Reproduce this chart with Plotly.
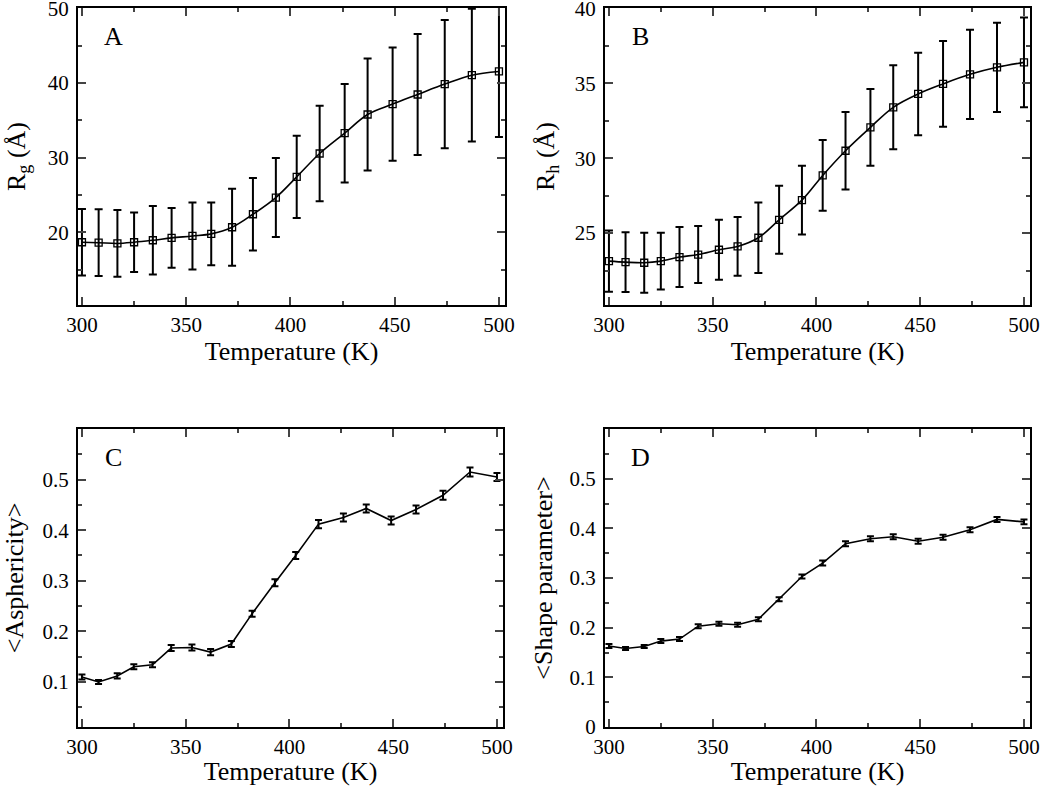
import plotly.graph_objects as go

# ---- data ----
temperature = [300, 308, 317, 325, 334, 343, 353, 362, 372, 382,
               393, 403, 414, 426, 437, 449, 461, 474, 487, 500]

rg = [18.66, 18.6, 18.5, 18.66, 18.93, 19.24, 19.5, 19.78, 20.67, 22.41,
      24.65, 27.42, 30.55, 33.28, 35.78, 37.17, 38.46, 39.85, 41.05, 41.55]
rg_err = [4.47, 4.47, 4.47, 4.0, 4.6, 4.0, 4.5, 4.2, 5.15, 4.85,
          5.3, 5.5, 6.4, 6.6, 7.5, 7.6, 8.1, 8.6, 8.9, 8.8]

rh = [23.13, 23.06, 23.02, 23.13, 23.4, 23.57, 23.89, 24.11, 24.69, 25.89,
      27.2, 28.85, 30.5, 32.06, 33.4, 34.29, 34.96, 35.6, 36.07, 36.4]
rh_err = [2.04, 2.0, 2.0, 1.9, 2.0, 1.9, 2.0, 1.96, 2.35, 2.27,
          2.3, 2.36, 2.58, 2.57, 2.8, 2.75, 2.86, 2.98, 2.98, 3.0]

asph = [0.110, 0.100, 0.112, 0.130, 0.134, 0.167, 0.168, 0.159, 0.175, 0.235,
        0.296, 0.350, 0.412, 0.425, 0.443, 0.419, 0.441, 0.469, 0.515, 0.505]
asph_err = [0.005, 0.004, 0.005, 0.005, 0.005, 0.006, 0.006, 0.006, 0.006, 0.006,
            0.007, 0.007, 0.008, 0.008, 0.008, 0.008, 0.008, 0.009, 0.009, 0.008]

shape = [0.163, 0.158, 0.162, 0.173, 0.177, 0.203, 0.208, 0.206, 0.217, 0.257,
         0.303, 0.330, 0.369, 0.379, 0.383, 0.374, 0.382, 0.397, 0.418, 0.413]
shape_err = [0.004, 0.003, 0.003, 0.004, 0.004, 0.004, 0.004, 0.004, 0.004, 0.004,
             0.004, 0.005, 0.005, 0.005, 0.005, 0.005, 0.005, 0.005, 0.005, 0.005]

x_ticks = [300, 350, 400, 450, 500]
panel_labels = ["A", "B", "C", "D"]
x_title = "Temperature (K)"
y_titles = ["R<sub>g</sub> (Å)", "R<sub>h</sub> (Å)", "&lt;Asphericity&gt;", "&lt;Shape parameter&gt;"]

FONT = "Liberation Serif"
W, H = 1050, 786

# panel frames in pixels (left, right, top, bottom)
frames = [(78, 505, 8, 305), (605, 1030, 8, 305), (78, 503, 429, 727), (605, 1030, 429, 727)]

fig = go.Figure()

series = [
    (rg, rg_err, "spline", True, 4),
    (rh, rh_err, "spline", True, 4),
    (asph, asph_err, "linear", False, 3.5),
    (shape, shape_err, "linear", False, 3.5),
]

for i, (vals, errs, shp, markers, capw) in enumerate(series):
    xa = "x" if i == 0 else f"x{i+1}"
    ya = "y" if i == 0 else f"y{i+1}"
    fig.add_trace(go.Scatter(
        x=temperature, y=vals, xaxis=xa, yaxis=ya,
        mode="lines+markers" if markers else "lines",
        line=dict(color="black", width=1.6, shape=shp),
        marker=dict(symbol="square-open", size=7, color="black", line=dict(width=1.3)),
        error_y=dict(type="data", array=errs, visible=True, color="black",
                     thickness=2, width=capw),
        showlegend=False,
    ))

y_ranges = [[10.25, 50.05], [20.2, 40.03], [0.011, 0.6], [0, 0.6]]
y_major = [[20, 30, 40, 50], [25, 30, 35, 40], [0.1, 0.2, 0.3, 0.4, 0.5],
           [0, 0.1, 0.2, 0.3, 0.4, 0.5]]
y_minor = [5, 2.5, 0.05, 0.05]
y_standoff = [15, 13, 11, 9]

layout = dict(
    width=W, height=H,
    margin=dict(l=0, r=0, t=0, b=0),
    paper_bgcolor="white", plot_bgcolor="white",
    font=dict(family=FONT, color="black", size=20),
    showlegend=False,
)

annotations = []
for i, (l, r, t, b) in enumerate(frames):
    sx = "" if i == 0 else str(i + 1)
    xdom = [l / W, r / W]
    ydom = [(H - b) / H, (H - t) / H]
    layout[f"xaxis{sx}"] = dict(
        domain=xdom, anchor=f"y{sx}", range=[298.1, 502.9],
        tickvals=x_ticks, ticks="inside", ticklen=8, tickwidth=1.5,
        minor=dict(dtick=25, tick0=300, ticks="inside", ticklen=4, tickwidth=1.5),
        showline=True, linewidth=2, linecolor="black", mirror="allticks",
        showgrid=False, zeroline=False, automargin=False,
        ticklabeloverflow="allow",
        tickfont=dict(family=FONT, size=21),
        title=dict(text=x_title, font=dict(family=FONT, size=26), standoff=3),
    )
    layout[f"yaxis{sx}"] = dict(
        domain=ydom, anchor=f"x{sx}", range=y_ranges[i],
        tickvals=y_major[i], ticks="inside", ticklen=8, tickwidth=1.5,
        minor=dict(dtick=y_minor[i], ticks="inside", ticklen=4, tickwidth=1.5),
        showline=True, linewidth=2, linecolor="black", mirror="allticks",
        showgrid=False, zeroline=False, automargin=False,
        ticklabelstandoff=3, ticklabeloverflow="allow",
        tickfont=dict(family=FONT, size=21),
        title=dict(text=y_titles[i], font=dict(family=FONT, size=26), standoff=y_standoff[i]),
    )
    annotations.append(dict(
        text=panel_labels[i], xref=f"x{sx} domain", yref=f"y{sx} domain",
        x=0.083, y=0.905, xanchor="center", yanchor="middle", showarrow=False,
        font=dict(family=FONT, size=26, color="black"),
    ))

layout["annotations"] = annotations
fig.update_layout(**layout)
fig.write_html("out.html", config={"displayModeBar": False},
               post_script="document.body.style.margin='0px';")
